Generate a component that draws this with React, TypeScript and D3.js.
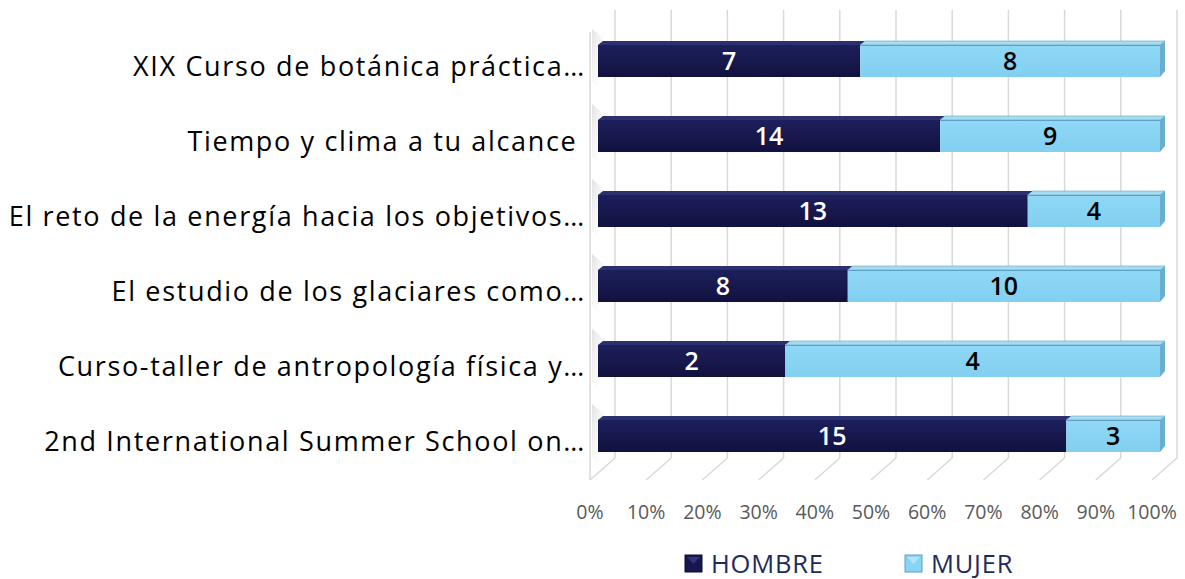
import * as d3 from 'd3';

const categories = [
  'XIX Curso de botánica práctica…',
  'Tiempo y clima a tu alcance ',
  'El reto de la energía hacia los objetivos…',
  'El estudio de los glaciares como…',
  'Curso-taller de antropología física y…',
  '2nd International Summer School on…',
];
const hombre = [7, 14, 13, 8, 2, 15];
const mujer = [8, 9, 4, 10, 4, 3];
const tickValues = [0, 10, 20, 30, 40, 50, 60, 70, 80, 90, 100];
const seriesNames = ['HOMBRE', 'MUJER'];

const W = 1185;
const H = 579;

// 3d offsets
const DEPTH = { dx: 25, dy: -22 }; // front of floor -> back wall
const BAR_OFF = 8; // bar face shifted from front plane
const BAR_D = { dx: 5, dy: -4 }; // bar thickness

const darkFace = '#17174f';
const darkTop = '#2b3070';
const lightFace = '#88d4f4';
const lightTop = '#a6dcf0';
const lightSide = '#69aed0';
const grid = '#d9d9d9';
const font = '"Open Sans", sans-serif';

export default function App() {
  const xFront = d3.scaleLinear().domain([0, 100]).range([590, 1152]);
  const y = d3.scaleBand<string>()
    .domain(categories)
    .range([23.5, 473.5])
    .paddingInner(0.573)
    .paddingOuter(0.2865);
  const floorY = 480;
  const wallTop = 10;

  const rows = categories.map((c, i) => {
    const total = hombre[i] + mujer[i];
    return { c, h: hombre[i], m: mujer[i], ph: (hombre[i] / total) * 100 };
  });

  const fmt = d3.format('d');

  return (
    <svg width={W} height={H} style={{ display: 'block', position: 'absolute', left: 0, top: 0 }}>
      <defs>
        <linearGradient id="darkG" x1="0" y1="0" x2="0" y2="1">
          <stop offset="0" stopColor="#1d1f5c" />
          <stop offset="1" stopColor="#11113f" />
        </linearGradient>
        <linearGradient id="lightG" x1="0" y1="0" x2="0" y2="1">
          <stop offset="0" stopColor="#8fd8f6" />
          <stop offset="1" stopColor="#82cff0" />
        </linearGradient>
        <linearGradient id="shadowG" x1="0" y1="0" x2="1" y2="1">
          <stop offset="0" stopColor="#a0a0a0" stopOpacity="0.7" />
          <stop offset="1" stopColor="#ffffff" stopOpacity="0" />
        </linearGradient>
      </defs>
      <rect width={W} height={H} fill="#fff" />

      {/* back wall gridlines */}
      {tickValues.map(t => (
        <line key={'g' + t}
          x1={xFront(t) + DEPTH.dx} x2={xFront(t) + DEPTH.dx}
          y1={wallTop} y2={floorY + DEPTH.dy}
          stroke={grid} strokeWidth={1.5} />
      ))}
      {/* floor lines */}
      {tickValues.map(t => (
        <line key={'f' + t}
          x1={xFront(t)} y1={floorY}
          x2={xFront(t) + DEPTH.dx} y2={floorY + DEPTH.dy}
          stroke={grid} strokeWidth={1.5} />
      ))}
      {/* left wall front edge */}
      <line x1={xFront(0)} x2={xFront(0)} y1={wallTop - DEPTH.dy} y2={floorY} stroke={grid} strokeWidth={1.5} />

      {/* bars */}
      {rows.map(r => {
        const top = y(r.c)!;
        const bh = y.bandwidth();
        const bot = top + bh;
        const x0 = xFront(0) + BAR_OFF;
        const xm = xFront(r.ph) + BAR_OFF;
        const x1 = xFront(100) + BAR_OFF;
        const { dx, dy } = BAR_D;
        return (
          <g key={r.c}>
            {/* shadow on left wall */}
            <polygon
              points={`${x0 - 6},${top - 16} ${x0 + 6},${top - 6} ${x0},${bot + 12} ${x0 - 6},${bot + 4}`}
              fill="url(#shadowG)" opacity={0.45} />
            {/* top faces */}
            <polygon points={`${x0},${top} ${xm},${top} ${xm + dx},${top + dy} ${x0 + dx},${top + dy}`} fill={darkTop} />
            <polygon points={`${xm},${top} ${x1},${top} ${x1 + dx},${top + dy} ${xm + dx},${top + dy}`} fill={lightTop} stroke="#6aa8c8" strokeWidth={0.6} />
            {/* right end cap */}
            <polygon points={`${x1},${top} ${x1 + dx},${top + dy} ${x1 + dx},${bot + dy - 2} ${x1},${bot}`} fill={lightSide} />
            {/* front faces */}
            <rect x={x0} y={top} width={xm - x0} height={bh} fill="url(#darkG)" />
            <rect x={xm} y={top} width={x1 - xm} height={bh} fill="url(#lightG)" />
            <line x1={xm} x2={x1} y1={top + 0.5} y2={top + 0.5} stroke="#5e9fc2" strokeWidth={1} />
            {/* value labels */}
            <text x={(x0 + xm) / 2} y={top + bh / 2} dy="0.36em" textAnchor="middle"
              fontFamily={font} fontWeight={600} fontSize={25} fill="#fff">{fmt(r.h)}</text>
            <text x={(xm + x1) / 2} y={top + bh / 2} dy="0.36em" textAnchor="middle"
              fontFamily={font} fontWeight={600} fontSize={25} fill="#000">{fmt(r.m)}</text>
            {/* category label */}
            <text x={586} y={top + bh / 2 + 5} dy="0.36em" textAnchor="end" xmlSpace="preserve"
              fontFamily={font} fontSize={27} letterSpacing={1.65} fill="#000">{r.c}</text>
          </g>
        );
      })}

      {/* x axis labels */}
      {tickValues.map(t => (
        <text key={'t' + t} x={xFront(t)} y={512} dy="0.36em" textAnchor="middle"
          fontFamily={font} fontSize={19.5} fill="#595959">{t}%</text>
      ))}

      {/* legend */}
      {seriesNames.map((s, i) => {
        const lx = i === 0 ? 685 : 905;
        const ly = 555;
        return (
          <g key={s}>
            <rect x={lx} y={ly} width={17} height={17} fill={i === 0 ? darkFace : lightFace} stroke={i === 0 ? '#0c0c33' : '#5e9fc2'} strokeWidth={1} />
            <polygon points={`${lx + 2},${ly + 2} ${lx + 15},${ly + 2} ${lx + 8.5},${ly + 9}`} fill={i === 0 ? '#2f3477' : '#b5e4f6'} />
            <text x={lx + 26} y={ly + 8.5} dy="0.36em" fontFamily={font} fontSize={25.5} letterSpacing={0.8} fill="#1f2a5c">{s}</text>
          </g>
        );
      })}
    </svg>
  );
}
